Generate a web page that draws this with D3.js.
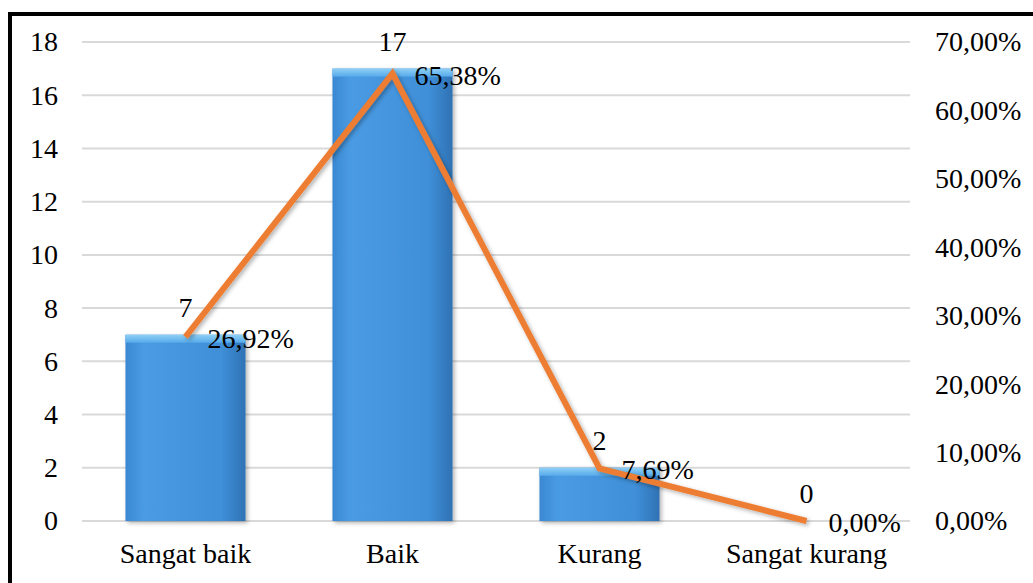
<!DOCTYPE html>
<html>
<head>
<meta charset="utf-8">
<script src="https://cdn.jsdelivr.net/npm/d3@7"></script>
<style>
  body { margin: 0; background: #fff; }
</style>
</head>
<body>
<div id="chart"></div>
<script>
// DATA
var categories = ["Sangat baik", "Baik", "Kurang", "Sangat kurang"];
var counts = [7, 17, 2, 0];
var percents = [26.92, 65.38, 7.69, 0.00];
var countTicks = [0, 2, 4, 6, 8, 10, 12, 14, 16, 18];
var percentTicks = [0, 10, 20, 30, 40, 50, 60, 70];

var w = 1033;
var h = 583;
var plotLeft = 82, plotRight = 910, plotTop = 42, plotBottom = 521;
var serif = "'Liberation Serif', 'Times New Roman', Times, serif";

var svg = d3.select("#chart").append("svg").attr("width", w).attr("height", h);
var defs = svg.append("defs");

// bar gradient + shadow
var grad = defs.append("linearGradient").attr("id", "barGrad")
  .attr("x1", "0").attr("x2", "1").attr("y1", "0").attr("y2", "0");
grad.append("stop").attr("offset", "0%").attr("stop-color", "#3a88d2");
grad.append("stop").attr("offset", "15%").attr("stop-color", "#4a9be3");
grad.append("stop").attr("offset", "80%").attr("stop-color", "#3f8fd8");
grad.append("stop").attr("offset", "100%").attr("stop-color", "#2f72b4");

var topGrad = defs.append("linearGradient").attr("id", "topGrad")
  .attr("x1", "0").attr("x2", "0").attr("y1", "0").attr("y2", "1");
topGrad.append("stop").attr("offset", "0%").attr("stop-color", "#8fd0f6");
topGrad.append("stop").attr("offset", "100%").attr("stop-color", "#56aaea");

var shadow = defs.append("filter").attr("id", "shadow")
  .attr("x", "-20%").attr("y", "-20%").attr("width", "140%").attr("height", "140%");
shadow.append("feDropShadow").attr("dx", 2).attr("dy", 2).attr("stdDeviation", 2)
  .attr("flood-color", "#000").attr("flood-opacity", 0.3);

// SCALES
var xScale = d3.scaleBand().domain(categories).range([plotLeft, plotRight]).paddingInner(0.42).paddingOuter(0.21);
var yScale = d3.scaleLinear().domain([0, 18]).range([plotBottom, plotTop]);
var y2Scale = d3.scaleLinear().domain([0, 70]).range([plotBottom, plotTop]);

// GRIDLINES
svg.append("g")
  .selectAll("line")
  .data(countTicks)
  .enter()
  .append("line")
  .attr("x1", plotLeft).attr("x2", plotRight)
  .attr("y1", function (d) { return yScale(d); })
  .attr("y2", function (d) { return yScale(d); })
  .attr("stroke", "#d9d9d9")
  .attr("stroke-width", 2);

// AXES
var yAxis = d3.axisLeft(yScale).tickValues(countTicks).tickSize(0).tickPadding(24);
var gy = svg.append("g").attr("transform", "translate(" + plotLeft + ",0)").call(yAxis);
gy.select(".domain").remove();

var y2Axis = d3.axisRight(y2Scale).tickValues(percentTicks).tickSize(0).tickPadding(25)
  .tickFormat(function (d) { return d.toFixed(2).replace(".", ",") + "%"; });
var gy2 = svg.append("g").attr("transform", "translate(" + plotRight + ",0)").call(y2Axis);
gy2.select(".domain").remove();

var xAxis = d3.axisBottom(xScale).tickSize(0).tickPadding(22);
var gx = svg.append("g").attr("transform", "translate(0," + plotBottom + ")").call(xAxis);
gx.select(".domain").remove();

[gy, gy2, gx].forEach(function (g) {
  g.attr("font-family", serif).attr("font-size", 28);
  g.selectAll("text").style("font-family", serif).style("font-size", "28px").attr("fill", "#000");
});

// BARS
var bars = svg.append("g").selectAll("g")
  .data(categories)
  .enter()
  .append("g")
  .attr("filter", "url(#shadow)");

bars.append("rect")
  .attr("x", function (d) { return xScale(d); })
  .attr("y", function (d, i) { return yScale(counts[i]); })
  .attr("width", xScale.bandwidth())
  .attr("height", function (d, i) { return plotBottom - yScale(counts[i]); })
  .attr("fill", "url(#barGrad)");

// top bevel
bars.filter(function (d, i) { return counts[i] > 0; })
  .append("rect")
  .attr("x", function (d) { return xScale(d); })
  .attr("y", function (d, i) { return yScale(counts[i]); })
  .attr("width", xScale.bandwidth())
  .attr("height", 8)
  .attr("fill", "url(#topGrad)");

// LINE (right axis)
var line = d3.line()
  .x(function (d, i) { return xScale(categories[i]) + xScale.bandwidth() / 2; })
  .y(function (d) { return y2Scale(d); });

svg.append("path")
  .datum(percents)
  .attr("d", line)
  .attr("fill", "none")
  .attr("stroke", "#ed7d31")
  .attr("stroke-width", 6)
  .attr("stroke-linejoin", "miter")
  .attr("filter", "url(#shadow)");

// VALUE LABELS
svg.append("g").selectAll("text")
  .data(counts)
  .enter()
  .append("text")
  .attr("x", function (d, i) { return xScale(categories[i]) + xScale.bandwidth() / 2; })
  .attr("y", function (d) { return yScale(d) - 18; })
  .attr("text-anchor", "middle")
  .style("font-family", serif)
  .style("font-size", "28px")
  .text(function (d) { return d; });

svg.append("g").selectAll("text")
  .data(percents)
  .enter()
  .append("text")
  .attr("x", function (d, i) { return xScale(categories[i]) + xScale.bandwidth() / 2 + 22; })
  .attr("y", function (d) { return y2Scale(d) + 11; })
  .style("font-family", serif)
  .style("font-size", "28px")
  .text(function (d) { return d.toFixed(2).replace(".", ",") + "%"; });

// BORDER
svg.append("rect")
  .attr("x", 10).attr("y", 14)
  .attr("width", w + 20).attr("height", h + 20)
  .attr("fill", "none")
  .attr("stroke", "#000")
  .attr("stroke-width", 4);
</script>
</body>
</html>
